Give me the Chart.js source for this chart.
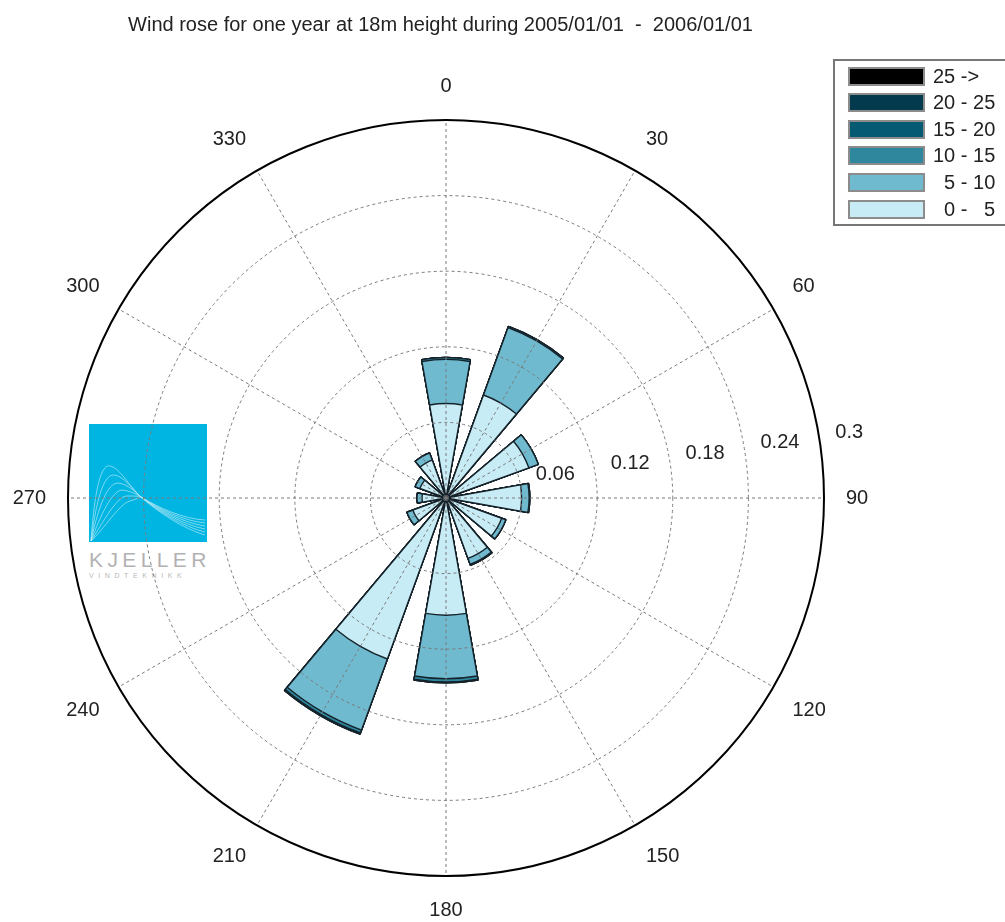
<!DOCTYPE html>
<html>
<head>
<meta charset="utf-8">
<title>Wind rose</title>
<script src="https://cdn.jsdelivr.net/npm/chart.js@4/dist/chart.umd.min.js"></script>
<style>
  html, body { margin: 0; padding: 0; background: #fff; }
  body { width: 1005px; height: 922px; position: relative; overflow: hidden; font-family: "Liberation Sans", Arial, sans-serif; }
  #rose { position: absolute; left: 0; top: 0; }
  .logo { position: absolute; left: 89px; top: 424px; width: 118px; }
  .logo svg { display: block; }
  .logo .name { font-size: 21px; line-height: 1; letter-spacing: 4.4px; color: #b2b2b2; margin-top: 7px; }
  .logo .sub { font-size: 7px; line-height: 1; letter-spacing: 4.6px; color: #b8b8b8; margin-top: 2px; }
  .legend { position: absolute; left: 833px; top: 59px; width: 180px; height: 167px; border: 2px solid #777; box-sizing: border-box; }
  .legend .row { position: absolute; left: 13px; height: 19px; display: flex; align-items: center; }
  .legend .sw { width: 77px; height: 19px; box-sizing: border-box; border: 2px solid #8c8c8c; }
  .legend .lbl { margin-left: 8px; font-size: 20px; color: #222; white-space: pre; }
</style>
</head>
<body>
<div class="logo">
  <svg width="118" height="118" viewBox="0 0 118 118">
    <rect width="118" height="118" fill="#00b5e2"/>
    <g fill="none" stroke="#fff" stroke-width="0.7" opacity="0.7">
      <path d="M2,117 C6,60 13,40 21,42 C31,44 40,62 52,73 C70,89 95,105 116,111"/>
      <path d="M2,117 C8,70 16,50 25,51 C35,52 44,66 52,73 C70,88 95,103 116,108"/>
      <path d="M2,117 C10,80 19,59 29,59 C39,60 46,68 52,73 C70,87 95,101 116,105"/>
      <path d="M2,117 C12,90 23,67 33,66 C42,67 47,70 52,73 C70,86 95,99 116,102"/>
      <path d="M2,117 C14,98 27,74 37,72 C45,72 49,72 52,73 C70,85 95,97 116,99"/>
      <path d="M2,117 C16,104 30,80 41,77 C47,75 50,74 52,73 C70,84 95,95 116,96"/>
    </g>
  </svg>
  <div class="name">KJELLER</div>
  <div class="sub">VINDTEKNIKK</div>
</div>
<canvas id="rose" width="1005" height="922"></canvas>
<div class="legend" id="legend"></div>
<script>
// wind directions (degrees, clockwise from north)
const directions = [0, 30, 60, 90, 120, 150, 180, 210, 240, 270, 300, 330];

// frequency per speed bin (m/s) and direction
const freq0to5   = [0.075, 0.087, 0.070, 0.060, 0.047, 0.051, 0.093, 0.136, 0.028, 0.019, 0.022, 0.032];
const freq5to10  = [0.035, 0.057, 0.008, 0.006, 0.0035, 0.005, 0.0505, 0.060, 0.005, 0.004, 0.004, 0.006];
const freq10to15 = [0.0015, 0.001, 0, 0.0005, 0, 0.0008, 0.0025, 0.0025, 0, 0, 0, 0];
const freq15to20 = [0, 0, 0, 0, 0, 0, 0.0007, 0.001, 0, 0, 0, 0];
const freq20to25 = [0, 0, 0, 0, 0, 0, 0, 0, 0, 0, 0, 0];
const freq25up   = [0, 0, 0, 0, 0, 0, 0, 0, 0, 0, 0, 0];

const binLabels = ['  0 -   5', '  5 - 10', '10 - 15', '15 - 20', '20 - 25', '25 ->'];
const binColors = ['#c8ecf6', '#6fbacf', '#2f879e', '#045a73', '#033a4d', '#000000'];

const radialTicks = [0.06, 0.12, 0.18, 0.24, 0.3];
const radialTickLabels = ['0.06', '0.12', '0.18', '0.24', '0.3'];
const directionLabels = directions.map(String);

const SECTOR_WIDTH = 20;      // degrees covered by each petal
const TICK_LABEL_ANGLE = 8;   // degrees above east
const FONT = '"Liberation Sans", Arial, sans-serif';

Chart.defaults.font.family = FONT;
Chart.defaults.color = '#222';

// stacked bins -> cumulative radii, drawn largest first
const binSeries = [freq0to5, freq5to10, freq10to15, freq15to20, freq20to25, freq25up];
const cumulative = binSeries.map((_, j) =>
  directions.map((d, k) => binSeries.slice(0, j + 1).reduce((s, arr) => s + arr[k], 0)));

// slot 0 is a spacer so the first petal is centred on north; then petal, gap, petal, gap...
const toSlots = (vals) => [0].concat(...vals.map(v => [v, 0]));
const slotLabels = [''].concat(...directionLabels.map(l => [l, '']));

const datasets = cumulative.map((vals, j) => ({
  label: binLabels[j],
  data: toSlots(vals),
  backgroundColor: binColors[j],
  borderColor: '#15222a',
  borderWidth: (c) => c.raw > 0 ? 1.4 : 0,
  angle: (c) => c.dataIndex === 0 ? 360 - SECTOR_WIDTH / 2 : (c.dataIndex % 2 ? SECTOR_WIDTH : 30 - SECTOR_WIDTH)
}));

const tickLabelPlugin = {
  id: 'tickLabels',
  afterDraw(chart) {
    const s = chart.scales.r;
    const ctx = chart.ctx;
    const a = TICK_LABEL_ANGLE * Math.PI / 180;
    ctx.save();
    ctx.font = '20px ' + FONT;
    ctx.fillStyle = '#222';
    ctx.textAlign = 'left';
    ctx.textBaseline = 'middle';
    radialTicks.forEach((v, i) => {
      const r = s.getDistanceFromCenterForValue(v);
      ctx.fillText(radialTickLabels[i], s.xCenter + r * Math.cos(a) + 15, s.yCenter - r * Math.sin(a) - 13);
    });
    ctx.restore();
  }
};

const isRim = (c) => c.tick && c.tick.value >= 0.3 - 1e-9;

new Chart(document.getElementById('rose'), {
  type: 'polarArea',
  data: { labels: slotLabels, datasets },
  options: {
    responsive: false,
    animation: false,
    events: [],
    layout: { padding: { left: 0, right: 124, top: 0, bottom: 0 } },
    plugins: {
      legend: { display: false },
      tooltip: { enabled: false },
      title: {
        display: true,
        text: 'Wind rose for one year at 18m height during 2005/01/01  -  2006/01/01',
        font: { size: 20, weight: 'normal' },
        color: '#222',
        padding: { top: 13, bottom: 37 }
      }
    },
    scales: {
      r: {
        min: 0,
        max: 0.3,
        startAngle: 0,
        labels: directionLabels,
        afterBuildTicks: (s) => { s.ticks = [0].concat(radialTicks).map(v => ({ value: v })); },
        ticks: { display: false },
        grid: {
          z: 1,
          circular: true,
          color: (c) => isRim(c) ? '#000' : '#7a7a7a',
          lineWidth: (c) => isRim(c) ? 2 : 1
        },
        border: { dash: (c) => isRim(c) ? [] : [3, 3] },
        angleLines: { display: true, color: '#7a7a7a', lineWidth: 1, borderDash: [3, 3] },
        pointLabels: { display: true, padding: 22, font: { size: 20 }, color: '#222' }
      }
    }
  },
  plugins: [tickLabelPlugin]
});

// legend, top row is the strongest wind
const legendEl = document.getElementById('legend');
binLabels.slice().reverse().forEach((label, i) => {
  const color = binColors[binLabels.length - 1 - i];
  const row = document.createElement('div');
  row.className = 'row';
  row.style.top = (5.5 + 26.6 * i) + 'px';
  row.innerHTML = `<div class="sw" style="background:${color}"></div><span class="lbl">${label}</span>`;
  legendEl.appendChild(row);
});
</script>
</body>
</html>
